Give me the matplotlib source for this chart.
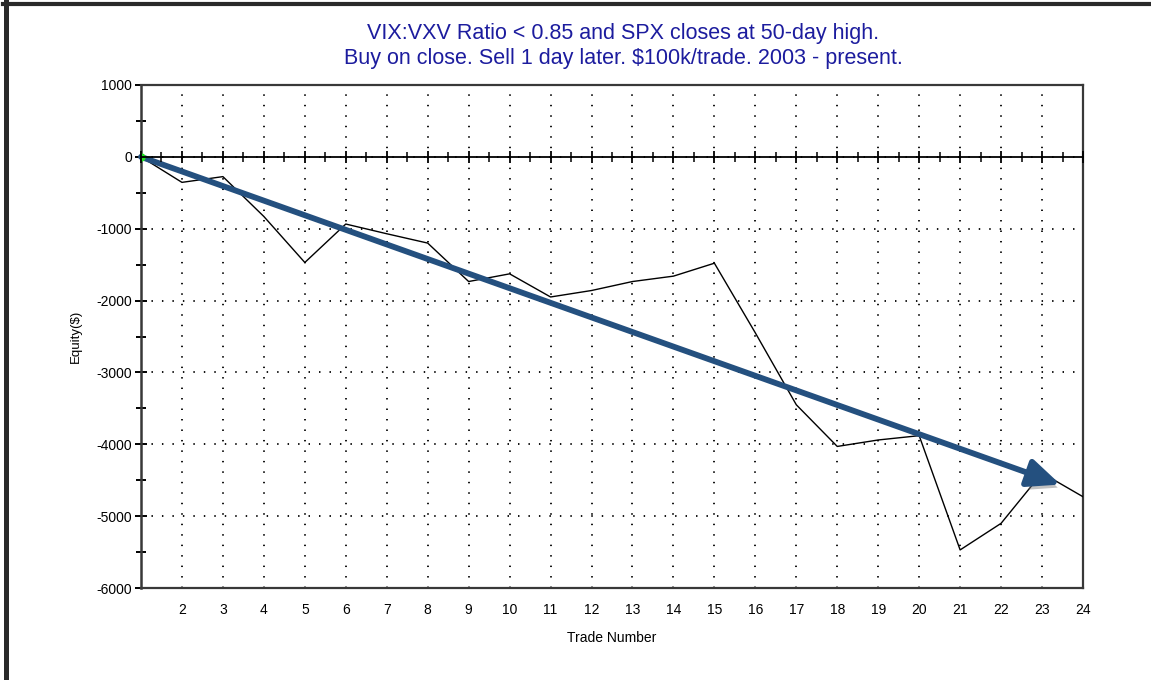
import numpy as np
import matplotlib
matplotlib.use('Agg')
import matplotlib.pyplot as plt
import matplotlib.patheffects as pe
from matplotlib.lines import Line2D
from matplotlib.ticker import MultipleLocator

plt.rcParams['font.family'] = ['Liberation Sans', 'DejaVu Sans']
plt.rcParams['axes.unicode_minus'] = False

# equity curve
trades = list(range(1, 25))
equity = [0, -355, -275, -830, -1470, -935, -1070, -1200, -1735, -1628,
          -1950, -1860, -1735, -1660, -1480, -2450, -3450, -4030,
          -3940, -3880, -5470, -5100, -4400, -4730]

# hand-drawn trend arrow (data coords)
trend_start = (1, 0)
trend_end = (23.45, -4560)

title = ('VIX:VXV Ratio < 0.85 and SPX closes at 50-day high.\n'
         'Buy on close. Sell 1 day later. $100k/trade. 2003 - present.')

fig = plt.figure(figsize=(11.51, 6.80), dpi=100)
ax = fig.add_axes([141/1151, 1 - 588/680, (1083 - 141)/1151, (588 - 85)/680])

ax.plot(trades, equity, color='black', lw=1.0, zorder=3)
ax.plot(trades[0], equity[0], 'o', color='#22e022', ms=5, zorder=6)

ax.set_xlim(1, 24)
ax.set_ylim(-6000, 1000)

ax.set_xticks(range(2, 25))
ax.yaxis.set_major_locator(MultipleLocator(1000))
ax.yaxis.set_minor_locator(MultipleLocator(500))
ax.tick_params(axis='x', length=0, pad=11, labelsize=10)
ax.tick_params(axis='y', which='major', direction='inout', length=9, width=1.4,
               pad=2, labelsize=10)
ax.tick_params(axis='y', which='minor', direction='inout', length=7, width=1.4)

dots = (0, (0.8, 5))
ax.xaxis.grid(True, color='black', ls=dots, lw=1.3)
ax.yaxis.grid(True, color='black', ls=dots, lw=1.3)
ax.set_axisbelow(True)

for side in ['top', 'right', 'bottom', 'left']:
    ax.spines[side].set_color('#383838')
    ax.spines[side].set_linewidth(1.6)
ax.spines['left'].set_linewidth(1.8)

# zero line with its own ticks
ax0 = ax.twiny()
ax0.set_xlim(1, 24)
ax0.spines['bottom'].set_position(('data', 0))
for side in ['top', 'right', 'left']:
    ax0.spines[side].set_visible(False)
ax0.spines['bottom'].set_color('black')
ax0.spines['bottom'].set_linewidth(1.3)
ax0.xaxis.set_ticks_position('bottom')
ax0.xaxis.set_major_locator(MultipleLocator(1))
ax0.xaxis.set_minor_locator(MultipleLocator(0.5))
ax0.tick_params(axis='x', which='major', direction='inout', length=9, width=1.3,
                labelbottom=False)
ax0.tick_params(axis='x', which='minor', direction='inout', length=7, width=1.1)

ax.set_ylabel('Equity($)', fontsize=9.5, labelpad=10)
ax.set_xlabel('Trade Number', fontsize=10, labelpad=10)

ax.annotate('', xy=trend_end, xytext=trend_start,
            arrowprops=dict(arrowstyle='-|>,head_length=1.15,head_width=0.5',
                            color='#24507f', lw=4.2, shrinkA=0, shrinkB=0,
                            mutation_scale=17,
                            path_effects=[pe.SimplePatchShadow(offset=(3, -4),
                                                               shadow_rgbFace='#777777',
                                                               alpha=0.45),
                                          pe.Normal()]),
            zorder=5)

fig.text(623/1151, 1 - 46/680, title, ha='center', va='center', fontsize=15.5,
         color='#1c1c9e', linespacing=1.2)

# dark frame on left/top of screenshot
fig.add_artist(Line2D([6/1151, 6/1151], [0, 1 - 2/680], color='#2a2a2a', lw=3.6))
fig.add_artist(Line2D([3/1151, 1], [1 - 4/680, 1 - 4/680], color='#2a2a2a', lw=3.0))

fig.savefig('out.png', dpi=100)
